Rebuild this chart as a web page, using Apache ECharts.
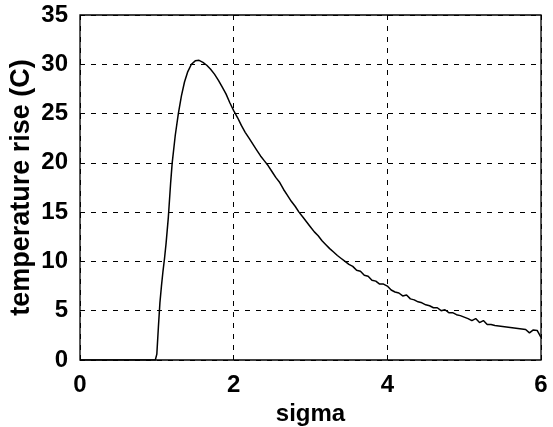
<!DOCTYPE html>
<html>
<head>
<meta charset="utf-8">
<script src="https://cdn.jsdelivr.net/npm/echarts@6/dist/echarts.min.js"></script>
<style>html,body{margin:0;padding:0;background:#fff;}#c{width:553px;height:427px;}</style>
</head>
<body>
<div id="c"></div>
<script>
var sigma = [0, 0.98, 1.0, 1.02, 1.04, 1.06, 1.08, 1.10, 1.12, 1.15, 1.18, 1.20, 1.24, 1.28, 1.32, 1.36, 1.40, 1.45,
  1.50, 1.55, 1.60, 1.65, 1.70, 1.75, 1.80, 1.85, 1.90, 1.95, 2.00, 2.05, 2.10, 2.15, 2.20, 2.25, 2.30, 2.35, 2.40, 2.45,
  2.50, 2.55, 2.60, 2.65, 2.70, 2.75, 2.80, 2.85, 2.90, 2.95, 3.00, 3.05, 3.10, 3.15, 3.20, 3.25, 3.30, 3.35, 3.40, 3.45,
  3.50, 3.55, 3.60, 3.65, 3.70, 3.75, 3.80, 3.85, 3.90, 3.95, 4.00, 4.05, 4.10, 4.15, 4.20, 4.25, 4.30, 4.35, 4.40, 4.45,
  4.50, 4.55, 4.60, 4.65, 4.70, 4.75, 4.80, 4.85, 4.90, 4.95, 5.00, 5.05, 5.10, 5.15, 5.20, 5.25, 5.30, 5.35, 5.40, 5.45,
  5.50, 5.55, 5.60, 5.65, 5.70, 5.75, 5.80, 5.85, 5.90, 5.95, 6.00];
var tempRise = [0, 0, 0.6, 3.3, 5.8, 7.5, 9.0, 10.3, 11.8, 14.5, 18.0, 20.0, 22.8, 25.0, 26.8, 28.2, 29.2, 30.0,
  30.35, 30.4, 30.2, 29.9, 29.5, 29.0, 28.4, 27.7, 27.0, 26.1, 25.3, 24.6, 23.8, 23.1, 22.5, 21.9, 21.3, 20.7, 20.2, 19.7,
  19.1, 18.5, 18.0, 17.3, 16.7, 16.1, 15.6, 15.0, 14.5, 14.0, 13.5, 13.0, 12.6, 12.1, 11.7, 11.3, 10.95, 10.6, 10.3, 10.0,
  9.7, 9.5, 9.1, 9.0, 8.6, 8.5, 8.1, 8.0, 7.7, 7.7, 7.5, 7.1, 6.9, 6.8, 6.5, 6.6, 6.2, 6.1, 5.9, 5.8,
  5.6, 5.5, 5.3, 5.3, 5.0, 5.1, 4.8, 4.8, 4.6, 4.5, 4.35, 4.2, 4.0, 4.2, 3.8, 4.0, 3.6, 3.6, 3.5, 3.45,
  3.4, 3.35, 3.3, 3.25, 3.2, 3.15, 3.1, 2.75, 3.05, 3.0, 2.3];
var xTicks = [0, 2, 4, 6];
var yTicks = [0, 5, 10, 15, 20, 25, 30, 35];

var pts = sigma.map(function (s, i) { return [s, tempRise[i]]; });
var font = 'Liberation Sans, Arial, Helvetica, sans-serif';
var chart = echarts.init(document.getElementById('c'), null, {renderer: 'canvas'});
chart.setOption({
  animation: false,
  backgroundColor: '#fff',
  grid: {left: 80, right: 12, top: 15, bottom: 67, containLabel: false, outerBoundsMode: 'none',
    show: true, borderColor: '#000', borderWidth: 1.3, backgroundColor: 'transparent'},
  xAxis: {
    type: 'value', min: xTicks[0], max: xTicks[xTicks.length - 1], interval: 2,
    name: 'sigma', nameLocation: 'middle', nameGap: 38,
    nameTextStyle: {fontFamily: font, fontSize: 24, fontWeight: 'bold', color: '#000'},
    axisLine: {show: false},
    axisTick: {show: true, inside: true, length: 5, lineStyle: {color: '#000'}},
    axisLabel: {fontFamily: font, fontSize: 24, fontWeight: 'bold', color: '#000', margin: 13},
    splitLine: {show: true, lineStyle: {color: '#000', type: [5, 6], width: 1}}
  },
  yAxis: {
    type: 'value', min: yTicks[0], max: yTicks[yTicks.length - 1], interval: 5,
    name: 'temperature rise (C)', nameLocation: 'middle', nameGap: 45, nameMoveOverlap: false,
    nameTextStyle: {fontFamily: font, fontSize: 27, fontWeight: 'bold', color: '#000'},
    axisLine: {show: false},
    axisTick: {show: true, inside: true, length: 5, lineStyle: {color: '#000'}},
    axisLabel: {fontFamily: font, fontSize: 24, fontWeight: 'bold', color: '#000', margin: 12},
    splitLine: {show: true, lineStyle: {color: '#000', type: [5, 6], width: 1}}
  },
  series: [{
    type: 'line', data: pts, showSymbol: false, smooth: false,
    lineStyle: {color: '#000', width: 1.5}
  }]
});
</script>
</body>
</html>
